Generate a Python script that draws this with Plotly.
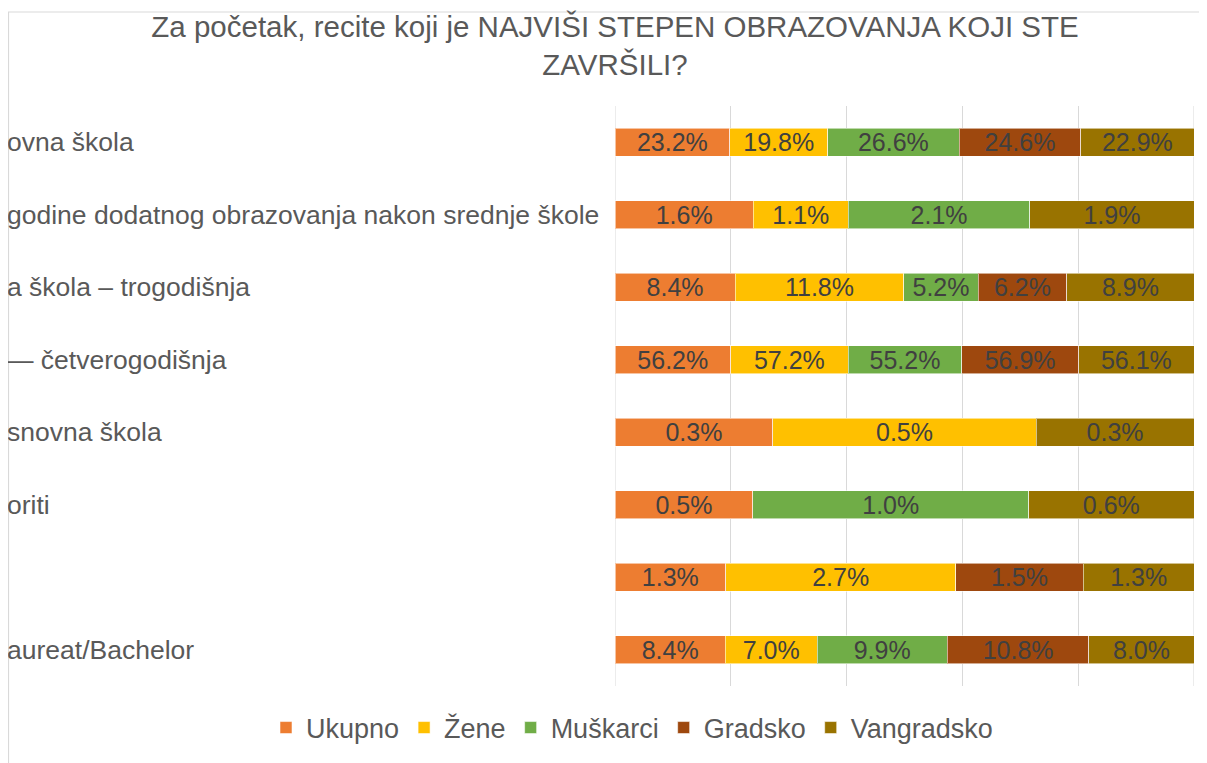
import plotly.graph_objects as go

# ---- data ----
row_labels = [
    "ovna škola",
    "godine dodatnog obrazovanja nakon srednje škole",
    "a škola – trogodišnja",
    "— četverogodišnja",
    "snovna škola",
    "oriti",
    "",
    "aureat/Bachelor",
]
rows = list(range(len(row_labels)))

series_names = ["Ukupno", "Žene", "Muškarci", "Gradsko", "Vangradsko"]
ukupno = [23.2, 1.6, 8.4, 56.2, 0.3, 0.5, 1.3, 8.4]
zene = [19.8, 1.1, 11.8, 57.2, 0.5, None, 2.7, 7.0]
muskarci = [26.6, 2.1, 5.2, 55.2, None, 1.0, None, 9.9]
gradsko = [24.6, None, 6.2, 56.9, None, None, 1.5, 10.8]
vangradsko = [22.9, 1.9, 8.9, 56.1, 0.3, 0.6, 1.3, 8.0]
series_values = [ukupno, zene, muskarci, gradsko, vangradsko]
colors = ["#ED7D31", "#FFC000", "#70AD47", "#9E480E", "#997300"]

x_ticks = [0, 20, 40, 60, 80, 100]

title_text = "Za početak, recite koji je NAJVIŠI STEPEN OBRAZOVANJA KOJI STE<br>ZAVRŠILI?"

FONT = "Liberation Sans, Arial, sans-serif"
OFF = 8  # page body margin offset
W, H = 1207 - OFF, 763 - OFF
ML, MR, MT, MB = 0, 13, 106 - OFF, 763 - 686
PW = W - ML - MR
PH = H - MT - MB
X0 = 615 - OFF  # left edge of bar area in figure px

fig = go.Figure()
for name, vals, col in zip(series_names, series_values, colors):
    fig.add_trace(go.Bar(
        name=name,
        y=rows,
        x=vals,
        orientation="h",
        marker=dict(color=col, line=dict(color="rgba(255,255,255,0.55)", width=1)),
        text=[("" if v is None else f"{v:.1f}%") for v in vals],
        textposition="inside",
        insidetextanchor="middle",
        textangle=0,
        constraintext="none",
        textfont=dict(family=FONT, size=25, color="#404040"),
        hoverinfo="skip",
    ))

annotations = []
for r, lab in zip(rows, row_labels):
    if not lab:
        continue
    annotations.append(dict(
        text=lab, xref="paper", yref="y", x=-3 / PW, y=r,
        xanchor="left", yanchor="middle", showarrow=False,
        font=dict(family=FONT, size=26.5, color="#595959"),
    ))

# vertical gridlines at the range edges (plotly drops edge gridlines)
shapes = [dict(type="line", xref="x", yref="paper", x0=t, x1=t, y0=0, y1=1,
               line=dict(color="#D9D9D9", width=1), layer="below")
          for t in (x_ticks[0], x_ticks[-1])]
shapes.append(dict(type="rect", xref="paper", yref="paper",
                   x0=0.5 / PW, x1=(W + 20) / PW,
                   y0=-(MB + 100) / PH, y1=(PH + MT - 4) / PH,
                   line=dict(color="#D9D9D9", width=1.2), fillcolor="rgba(0,0,0,0)", layer="below"))

fig.update_layout(
    width=W, height=H,
    margin=dict(l=ML, r=MR, t=MT, b=MB, pad=0),
    paper_bgcolor="white", plot_bgcolor="white",
    barmode="stack", barnorm="percent", bargap=0.615,
    title=dict(
        text=title_text, xref="container", x=(615 - OFF) / W, xanchor="center",
        yref="container", y=1 - (37 - OFF) / H, yanchor="middle",
        font=dict(family=FONT, size=29.5, color="#595959"),
    ),
    xaxis=dict(domain=[X0 / PW, 1], range=[x_ticks[0], x_ticks[-1]], tickvals=x_ticks,
               showgrid=True, gridcolor="#D9D9D9", gridwidth=1,
               zeroline=False, showticklabels=False, showline=False, ticks=""),
    yaxis=dict(autorange="reversed", showticklabels=False, showgrid=False, zeroline=False,
               showline=False, ticks=""),
    legend=dict(
        orientation="h", xref="paper", x=(632 - OFF) / PW, xanchor="center",
        yref="container", y=1 - (728 - OFF) / H, yanchor="middle", traceorder="normal",
        font=dict(family=FONT, size=27, color="#595959"),
        itemwidth=30,
    ),
    annotations=annotations,
    shapes=shapes,
)

fig.write_html("out.html")
